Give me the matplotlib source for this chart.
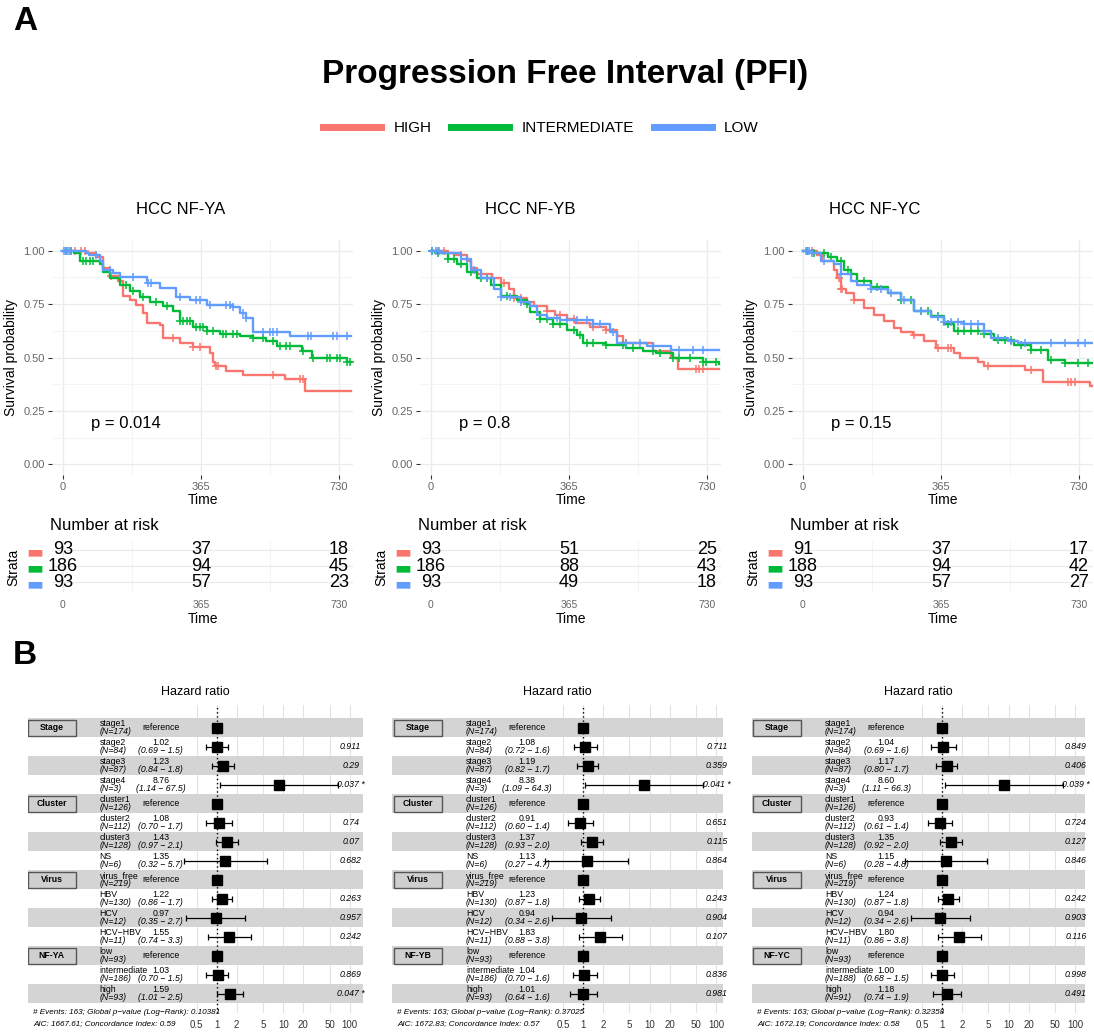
import numpy as np
import matplotlib
matplotlib.use("Agg")
import matplotlib.pyplot as plt
from matplotlib.lines import Line2D
from matplotlib.patches import Rectangle
import matplotlib.transforms as mtransforms

plt.rcParams['font.family'] = ['Liberation Sans', 'DejaVu Sans']

W, H = 1094, 1032
RED, GREEN, BLUE = '#F8766D', '#00BA38', '#619CFF'
strata_names = ['HIGH', 'INTERMEDIATE', 'LOW']
strata_colors = [RED, GREEN, BLUE]

# ---- Kaplan-Meier curves (time in days, survival after each step) ----
km_titles = ['HCC NF-YA', 'HCC NF-YB', 'HCC NF-YC']
km_pvals = ['p = 0.014', 'p = 0.8', 'p = 0.15']

ya_high_t = [0, 62, 88, 106, 124, 146, 159, 177, 194, 212, 221, 256, 265, 309, 344, 388, 397, 401, 432, 477, 587, 640, 763]
ya_high_s = [1.0, 0.99, 0.97, 0.92, 0.88, 0.86, 0.79, 0.77, 0.745, 0.71, 0.66, 0.65, 0.59, 0.57, 0.55, 0.52, 0.48, 0.46, 0.435, 0.42, 0.40, 0.345, 0.345]
ya_high_c = [31, 49, 57, 128, 291, 344, 362, 406, 410, 556, 627, 636]
ya_int_t = [0, 30, 44, 97, 106, 124, 150, 177, 203, 230, 265, 291, 309, 344, 380, 415, 468, 503, 538, 565, 631, 658, 750, 763]
ya_int_s = [1.0, 0.99, 0.95, 0.94, 0.90, 0.87, 0.84, 0.81, 0.785, 0.76, 0.74, 0.72, 0.67, 0.645, 0.625, 0.61, 0.60, 0.59, 0.575, 0.555, 0.53, 0.50, 0.48, 0.48]
ya_int_c = [9, 22, 53, 62, 71, 79, 168, 185, 212, 247, 274, 309, 318, 327, 335, 353, 362, 371, 380, 397, 424, 432, 450, 459,
            503, 530, 556, 574, 591, 600, 636, 662, 697, 706, 724, 733, 750, 759]
ya_low_t = [0, 60, 70, 97, 106, 132, 150, 221, 256, 300, 335, 380, 450, 468, 485, 503, 600, 763]
ya_low_s = [1.0, 0.99, 0.98, 0.95, 0.91, 0.895, 0.875, 0.85, 0.825, 0.785, 0.77, 0.745, 0.735, 0.71, 0.685, 0.62, 0.60, 0.60]
ya_low_c = [4, 9, 13, 18, 88, 124, 185, 225, 234, 309, 353, 362, 388, 432, 441, 450, 477, 485, 530, 547, 556, 565,
            649, 657, 715, 724, 750]

yb_high_t = [0, 44, 60, 96, 105, 123, 162, 184, 206, 219, 254, 272, 307, 329, 359, 381, 421, 464, 491, 508, 587, 635, 653, 763]
yb_high_s = [1.0, 0.99, 0.98, 0.95, 0.92, 0.89, 0.87, 0.85, 0.82, 0.78, 0.76, 0.74, 0.72, 0.70, 0.68, 0.66, 0.645, 0.63, 0.60, 0.57, 0.53, 0.50, 0.445, 0.445]
yb_high_c = [18, 35, 79, 193, 219, 237, 307, 342, 377, 429, 464, 517, 701, 710, 719]
yb_int_t = [0, 18, 44, 70, 96, 123, 158, 184, 228, 254, 263, 289, 324, 359, 386, 403, 464, 517, 561, 596, 640, 719, 763]
yb_int_s = [1.0, 0.99, 0.96, 0.94, 0.90, 0.87, 0.84, 0.79, 0.77, 0.75, 0.715, 0.68, 0.655, 0.63, 0.605, 0.57, 0.56, 0.545, 0.53, 0.52, 0.50, 0.48, 0.47]
yb_int_c = [4, 18, 44, 61, 79, 105, 131, 149, 166, 202, 237, 254, 289, 307, 324, 342, 377, 394, 412, 429, 464, 508,
            535, 587, 605, 640, 657, 684, 719, 727, 754]
yb_low_t = [0, 26, 79, 105, 131, 167, 184, 237, 263, 280, 307, 342, 429, 473, 491, 570, 635, 763]
yb_low_s = [1.0, 0.99, 0.96, 0.91, 0.87, 0.82, 0.785, 0.76, 0.74, 0.70, 0.685, 0.675, 0.655, 0.62, 0.57, 0.555, 0.535, 0.535]
yb_low_c = [4, 13, 22, 96, 114, 149, 184, 210, 237, 333, 359, 386, 412, 429, 447, 482, 517, 552, 587, 657, 692, 719]

yc_high_t = [0, 38, 51, 82, 91, 100, 113, 135, 162, 188, 215, 241, 259, 290, 321, 352, 400, 414, 462, 480, 586, 635, 760, 770]
yc_high_s = [1.0, 0.98, 0.95, 0.91, 0.87, 0.82, 0.80, 0.77, 0.73, 0.70, 0.67, 0.64, 0.62, 0.605, 0.575, 0.545, 0.52, 0.50, 0.48, 0.46, 0.44, 0.385, 0.365, 0.365]
yc_high_c = [25, 95, 100, 104, 135, 294, 356, 383, 391, 489, 604, 701, 710, 719]
yc_int_t = [0, 20, 65, 91, 109, 126, 144, 179, 224, 259, 294, 338, 374, 400, 480, 506, 559, 604, 648, 692, 770]
yc_int_s = [1.0, 0.99, 0.97, 0.95, 0.91, 0.89, 0.86, 0.83, 0.80, 0.77, 0.72, 0.695, 0.655, 0.625, 0.61, 0.58, 0.56, 0.535, 0.49, 0.475, 0.475]
yc_int_c = [11, 29, 56, 73, 100, 118, 144, 162, 197, 259, 286, 312, 330, 356, 383, 409, 427, 445, 462, 480, 515, 533,
            551, 577, 604, 630, 656, 692, 727, 754]
yc_low_t = [0, 20, 47, 82, 100, 126, 144, 179, 224, 259, 294, 338, 374, 427, 480, 498, 542, 568, 770]
yc_low_s = [1.0, 0.99, 0.95, 0.94, 0.89, 0.86, 0.84, 0.82, 0.80, 0.77, 0.72, 0.69, 0.665, 0.655, 0.625, 0.59, 0.575, 0.57, 0.57]
yc_low_c = [7, 16, 25, 56, 100, 179, 206, 232, 268, 312, 356, 374, 392, 409, 427, 445, 462, 480, 515, 551, 586, 656,
            692, 727, 745]

km_curves = [
    [(ya_high_t, ya_high_s, ya_high_c), (ya_int_t, ya_int_s, ya_int_c), (ya_low_t, ya_low_s, ya_low_c)],
    [(yb_high_t, yb_high_s, yb_high_c), (yb_int_t, yb_int_s, yb_int_c), (yb_low_t, yb_low_s, yb_low_c)],
    [(yc_high_t, yc_high_s, yc_high_c), (yc_int_t, yc_int_s, yc_int_c), (yc_low_t, yc_low_s, yc_low_c)],
]

risk_times = [0, 365, 730]
risk_ya = [[93, 37, 18], [186, 94, 45], [93, 57, 23]]
risk_yb = [[93, 51, 25], [186, 88, 43], [93, 49, 18]]
risk_yc = [[91, 37, 17], [188, 94, 42], [93, 57, 27]]
risk_tables = [risk_ya, risk_yb, risk_yc]

# ---- Cox forest plots ----
levels = ['stage1', 'stage2', 'stage3', 'stage4', 'cluster1', 'cluster2', 'cluster3', 'NS',
          'virus_free', 'HBV', 'HCV', 'HCV\u2212HBV', 'low', 'intermediate', 'high']
group_rows = [0, 4, 8, 12]
genes = ['NF-YA', 'NF-YB', 'NF-YC']
nan = np.nan

n_ya = [174, 84, 87, 3, 126, 112, 128, 6, 219, 130, 12, 11, 93, 186, 93]
hr_ya = [1, 1.02, 1.23, 8.76, 1, 1.08, 1.43, 1.35, 1, 1.22, 0.97, 1.55, 1, 1.03, 1.59]
lo_ya = [nan, 0.69, 0.84, 1.14, nan, 0.70, 0.97, 0.32, nan, 0.86, 0.35, 0.74, nan, 0.70, 1.01]
hi_ya = [nan, 1.5, 1.8, 67.5, nan, 1.7, 2.1, 5.7, nan, 1.7, 2.7, 3.3, nan, 1.5, 2.5]
p_ya = ['', '0.911', '0.29', '0.037 *', '', '0.74', '0.07', '0.682', '', '0.263', '0.957', '0.242', '', '0.869', '0.047 *']

n_yb = [174, 84, 87, 3, 126, 112, 128, 6, 219, 130, 12, 11, 93, 186, 93]
hr_yb = [1, 1.08, 1.19, 8.38, 1, 0.91, 1.37, 1.13, 1, 1.23, 0.94, 1.83, 1, 1.04, 1.01]
lo_yb = [nan, 0.72, 0.82, 1.09, nan, 0.60, 0.93, 0.27, nan, 0.87, 0.34, 0.88, nan, 0.70, 0.64]
hi_yb = [nan, 1.6, 1.7, 64.3, nan, 1.4, 2.0, 4.7, nan, 1.8, 2.6, 3.8, nan, 1.6, 1.6]
p_yb = ['', '0.711', '0.359', '0.041 *', '', '0.651', '0.115', '0.864', '', '0.243', '0.904', '0.107', '', '0.836', '0.981']

n_yc = [174, 84, 87, 3, 126, 112, 128, 6, 219, 130, 12, 11, 93, 188, 91]
hr_yc = [1, 1.04, 1.17, 8.60, 1, 0.93, 1.35, 1.15, 1, 1.24, 0.94, 1.80, 1, 1.00, 1.18]
lo_yc = [nan, 0.69, 0.80, 1.11, nan, 0.61, 0.92, 0.28, nan, 0.87, 0.34, 0.86, nan, 0.68, 0.74]
hi_yc = [nan, 1.6, 1.7, 66.3, nan, 1.4, 2.0, 4.8, nan, 1.8, 2.6, 3.8, nan, 1.5, 1.9]
p_yc = ['', '0.849', '0.406', '0.039 *', '', '0.724', '0.127', '0.846', '', '0.242', '0.903', '0.116', '', '0.998', '0.491']

forest_data = [(n_ya, hr_ya, lo_ya, hi_ya, p_ya), (n_yb, hr_yb, lo_yb, hi_yb, p_yb), (n_yc, hr_yc, lo_yc, hi_yc, p_yc)]
global_p = ['0.10381', '0.37025', '0.32358']
aic = ['1667.61', '1672.83', '1672.19']
cindex = ['0.59', '0.57', '0.58']
hr_ticks = [0.5, 1, 2, 5, 10, 20, 50, 100]


def fx(px):
    return px / W


def fy(py):
    return 1 - py / H


def rect(left, top, right, bottom):
    return [fx(left), fy(bottom), (right - left) / W, (bottom - top) / H]


fig = plt.figure(figsize=(W / 100, H / 100), dpi=100)

fig.text(fx(25), fy(22), 'A', fontsize=24, fontweight='bold', ha='center', va='center')
fig.text(fx(25), fy(655), 'B', fontsize=24, fontweight='bold', ha='center', va='center')
fig.text(fx(565), fy(75), 'Progression Free Interval (PFI)', fontsize=24, fontweight='bold',
         ha='center', va='center')
handles = [Line2D([], [], color=c, lw=5) for c in strata_colors]
fig.legend(handles, strata_names, loc='center', bbox_to_anchor=(fx(541), fy(128)), ncol=3,
           frameon=False, fontsize=11, handlelength=3.8, handletextpad=0.8, columnspacing=1.3)

km_left = [52, 420, 792]
title_x = [181, 530, 875]
for k in range(3):
    L = km_left[k]
    ax = fig.add_axes(rect(L, 240, L + 301, 475))
    for (t, s, cen), c in zip(km_curves[k], strata_colors):
        ax.step(t, s, where='post', color=c, lw=1.7)
        idx = np.searchsorted(t, cen, side='right') - 1
        ax.plot(cen, np.array(s)[idx], '+', color=c, ms=6, mew=1.1, ls='none')
    ax.set_xlim(-29, 767)
    ax.set_ylim(-0.05, 1.05)
    ax.set_xticks(risk_times)
    ax.set_xticks([182.5, 547.5], minor=True)
    ax.set_yticks([0, 0.25, 0.5, 0.75, 1.0])
    ax.set_yticklabels(['0.00', '0.25', '0.50', '0.75', '1.00'])
    ax.set_yticks([0.125, 0.375, 0.625, 0.875], minor=True)
    ax.grid(which='major', color='#ebebeb', lw=0.9)
    ax.grid(which='minor', color='#f4f4f4', lw=0.7)
    ax.set_axisbelow(True)
    for sp in ax.spines.values():
        sp.set_visible(False)
    ax.tick_params(which='major', length=3, width=0.8, color='#333333', labelcolor='#666666',
                   labelsize=8, pad=2)
    ax.tick_params(which='minor', length=0)
    ax.set_xlabel('Time', fontsize=10, labelpad=1)
    ax.set_ylabel('Survival probability', fontsize=10, labelpad=4)
    ax.text(75, 0.19, km_pvals[k], fontsize=12, ha='left', va='center')
    fig.text(fx(title_x[k]), fy(209), km_titles[k], fontsize=12, ha='center', va='center')

    # number at risk table
    rt = fig.add_axes(rect(L, 541, L + 301, 592))
    for r, row in enumerate(risk_tables[k]):
        for t, n in zip(risk_times, row):
            rt.text(t, r, str(n), ha='center', va='center', fontsize=13)
    rt.set_xlim(-29, 767)
    rt.set_ylim(2.6, -0.55)
    rt.set_xticks(risk_times)
    rt.set_xticks([182.5, 547.5], minor=True)
    rt.set_yticks([0, 1, 2])
    rt.set_yticklabels(['\u25ac'] * 3, fontfamily='DejaVu Sans', fontsize=13)
    for lab, c in zip(rt.get_yticklabels(), strata_colors):
        lab.set_color(c)
    rt.grid(which='major', color='#ebebeb', lw=0.9)
    rt.grid(which='minor', axis='x', color='#f4f4f4', lw=0.7)
    rt.set_axisbelow(True)
    for sp in rt.spines.values():
        sp.set_visible(False)
    rt.tick_params(axis='x', which='both', length=0, labelcolor='#666666', labelsize=7.5, pad=6)
    rt.tick_params(axis='y', which='both', length=0, pad=6)
    rt.set_xlabel('Time', fontsize=10, labelpad=1)
    fig.text(fx(L - 2), fy(525), 'Number at risk', fontsize=12, ha='left', va='center')
    fig.text(fx(L - 39), fy(567), 'Strata', fontsize=10, rotation=90, ha='center', va='center')

# ---- forest plots ----
forest_pos = [(28, 363, 216.7), (392, 723, 583.0), (752, 1085, 942.0)]
DEC = 66.5  # pixels per decade on the hazard ratio axis
FS = 6.3
for k in range(3):
    L, R, X1 = forest_pos[k]
    n, hr, lo, hi, pv = forest_data[k]
    ax = fig.add_axes(rect(L, 705, R, 1013))
    ax.set_xscale('log')
    ax.set_xlim(10 ** ((L - X1) / DEC), 10 ** ((R - X1) / DEC))
    ax.set_ylim(15.02, -1.195)
    tr = mtransforms.blended_transform_factory(ax.transAxes, ax.transData)

    def col(off):
        return (X1 + off - L) / (R - L)

    for x in hr_ticks:
        ax.axvline(x, color='#e3e3e3', lw=0.8, zorder=0)
    for i in range(0, len(levels), 2):
        ax.axhspan(i - 0.5, i + 0.5, color='#d4d4d4', lw=0, zorder=1)
    ax.axvline(1, color='black', lw=1, ls=(0, (1, 2)), zorder=3)

    rows = np.arange(len(levels))
    hr_a, lo_a, hi_a = np.array(hr), np.array(lo), np.array(hi)
    has_ci = ~np.isnan(lo_a)
    ax.errorbar(hr_a[has_ci], rows[has_ci], xerr=[hr_a[has_ci] - lo_a[has_ci], hi_a[has_ci] - hr_a[has_ci]],
                fmt='none', ecolor='black', elinewidth=0.9, capsize=2.2, capthick=0.9, zorder=4)
    ax.plot(hr_a, rows, 's', color='black', ms=7, ls='none', zorder=5)

    for i, lev in enumerate(levels):
        ax.text(col(-117), i - 0.2, lev, transform=tr, fontsize=FS, ha='left', va='center', zorder=6)
        ax.text(col(-117), i + 0.22, '(N=%d)' % n[i], transform=tr, fontsize=FS, style='italic',
                ha='left', va='center', zorder=6)
        if np.isnan(lo[i]):
            ax.text(col(-56), i, 'reference', transform=tr, fontsize=FS, ha='center', va='center', zorder=6)
        else:
            ax.text(col(-56), i - 0.2, '%.2f' % hr[i], transform=tr, fontsize=FS, ha='center',
                    va='center', zorder=6)
            ax.text(col(-56), i + 0.22, '(%.2f \u2212 %.1f)' % (lo[i], hi[i]), transform=tr, fontsize=FS,
                    style='italic', ha='center', va='center', zorder=6)
            ax.text(col(134), i, pv[i], transform=tr, fontsize=FS, style='italic', ha='center',
                    va='center', zorder=6)

    for g, r0 in zip(['Stage', 'Cluster', 'Virus', genes[k]], group_rows):
        ax.add_patch(Rectangle((col(-189), r0 - 0.42), col(-141) - col(-189), 0.84, transform=tr,
                               facecolor='#cfcfcf', edgecolor='#555555', lw=1, zorder=6))
        ax.text((col(-189) + col(-141)) / 2, r0, g, transform=tr, fontsize=6.3, fontweight='bold',
                ha='center', va='center', zorder=7)

    ax.set_xticks(hr_ticks)
    ax.set_xticklabels([('%g' % x) for x in hr_ticks])
    ax.xaxis.set_minor_locator(matplotlib.ticker.NullLocator())
    ax.set_yticks([])
    for sp in ax.spines.values():
        sp.set_visible(False)
    ax.tick_params(axis='x', length=0, labelsize=7, labelcolor='#333333', pad=5)
    fig.text(fx((L + R) / 2), fy(692), 'Hazard ratio', fontsize=9, ha='center', va='center')
    fig.text(fx(L + 5), fy(1012), '# Events: 163; Global p\u2212value (Log\u2212Rank): ' + global_p[k],
             fontsize=5.9, style='italic', ha='left', va='center')
    fig.text(fx(L + 5), fy(1024), 'AIC: %s; Concordance Index: %s' % (aic[k], cindex[k]),
             fontsize=5.9, style='italic', ha='left', va='center')

fig.savefig('out.png', dpi=100)
